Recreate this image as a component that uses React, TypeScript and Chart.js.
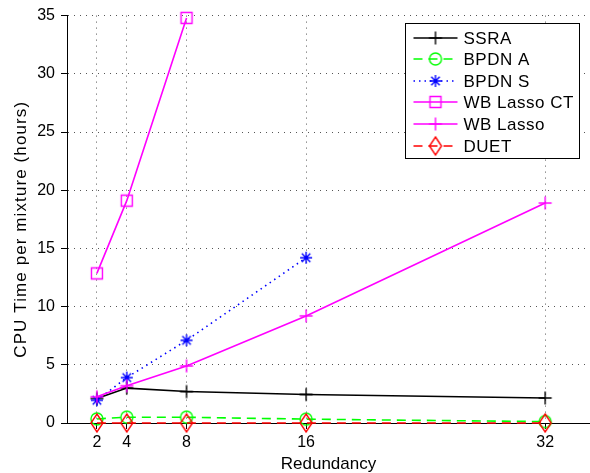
import React, { useEffect, useRef } from "react";
import { Chart, registerables } from "chart.js";

Chart.register(...registerables);

// ---- data ----
const redundancy = [2, 4, 8, 16, 32];
const ssra = [2.1, 3.0, 2.7, 2.45, 2.15];
const bpdnA = [0.35, 0.5, 0.5, 0.33, 0.12];
const bpdnS = [1.95, 3.9, 7.1, 14.2];
const wbLassoCT = [12.85, 19.1, 34.8];
const wbLasso = [2.25, 3.2, 4.9, 9.2, 18.9];
const duet = [0, 0, 0, 0, 0];
const xTickValues = [2, 4, 8, 16, 32];
const yTickValues = [0, 5, 10, 15, 20, 25, 30, 35];
const seriesNames = ["SSRA", "BPDN A", "BPDN S", "WB Lasso CT", "WB Lasso", "DUET"];
const xTitle = "Redundancy";
const yTitle = "CPU Time per mixture (hours)";

const FONT = "'Liberation Sans', Arial, Helvetica, sans-serif";

type MarkerKind = "plus" | "circle" | "star" | "square" | "diamond";

function makeMarker(kind: MarkerKind, color: string): HTMLCanvasElement {
  const size = 22;
  const c = document.createElement("canvas");
  c.width = size;
  c.height = size;
  const g = c.getContext("2d")!;
  g.strokeStyle = color;
  g.lineWidth = 1.4;
  const m = size / 2;
  g.beginPath();
  if (kind === "plus") {
    const r = 6.5;
    g.moveTo(m - r, m);
    g.lineTo(m + r, m);
    g.moveTo(m, m - r);
    g.lineTo(m, m + r);
  } else if (kind === "circle") {
    g.arc(m, m, 6, 0, Math.PI * 2);
  } else if (kind === "star") {
    const r = 6;
    for (let k = 0; k < 4; k++) {
      const a = (k * Math.PI) / 4;
      g.moveTo(m - r * Math.cos(a), m - r * Math.sin(a));
      g.lineTo(m + r * Math.cos(a), m + r * Math.sin(a));
    }
  } else if (kind === "square") {
    g.rect(m - 5.5, m - 5.5, 11, 11);
  } else if (kind === "diamond") {
    g.moveTo(m, m - 9);
    g.lineTo(m + 6, m);
    g.lineTo(m, m + 9);
    g.lineTo(m - 6, m);
    g.closePath();
  }
  g.stroke();
  return c;
}

function toPoints(values: number[]) {
  return values.map((y, i) => ({ x: redundancy[i], y }));
}

export default function App() {
  const ref = useRef<HTMLCanvasElement | null>(null);

  useEffect(() => {
    if (!ref.current) return;

    const styles = [
      { color: "#000000", dash: [] as number[], marker: "plus" as MarkerKind, values: ssra },
      { color: "#00ff00", dash: [9, 6], marker: "circle" as MarkerKind, values: bpdnA },
      { color: "#0000ff", dash: [1.5, 4], marker: "star" as MarkerKind, values: bpdnS },
      { color: "#ff00ff", dash: [] as number[], marker: "square" as MarkerKind, values: wbLassoCT },
      { color: "#ff00ff", dash: [] as number[], marker: "plus" as MarkerKind, values: wbLasso },
      { color: "#ff0000", dash: [9, 6], marker: "diamond" as MarkerKind, values: duet },
    ];
    const markers = styles.map((s) => makeMarker(s.marker, s.color));

    const datasets = styles.map((s, i) => ({
      label: seriesNames[i],
      data: toPoints(s.values),
      borderColor: s.color,
      backgroundColor: s.color,
      borderWidth: 1.6,
      borderDash: s.dash,
      pointStyle: markers[i],
      pointRadius: 6,
      pointHoverRadius: 6,
      tension: 0,
      fill: false,
      clip: false as const,
      order: styles.length - i,
    }));

    const overlay = {
      id: "matlabOverlay",
      afterDraw(chart: any) {
        const ctx: any = chart.ctx;
        const area = chart.chartArea;
        ctx.save();
        // y-axis title
        ctx.font = `17px ${FONT}`;
        ctx.letterSpacing = "1.1px";
        ctx.fillStyle = "#000";
        ctx.textAlign = "center";
        ctx.textBaseline = "middle";
        ctx.translate(21, (area.top + area.bottom) / 2 + 10);
        ctx.rotate(-Math.PI / 2);
        ctx.fillText(yTitle, 0, 0);
        ctx.restore();

        // legend box
        ctx.save();
        const bx = Math.round(area.right - 185) + 0.5;
        const by = Math.round(area.top + 7) + 0.5;
        const bw = 174;
        const bh = 135;
        ctx.fillStyle = "#ffffff";
        ctx.fillRect(bx, by, bw, bh);
        ctx.strokeStyle = "#000";
        ctx.lineWidth = 1;
        ctx.setLineDash([]);
        ctx.strokeRect(bx, by, bw, bh);
        ctx.font = `17px ${FONT}`;
        ctx.letterSpacing = "0.5px";
        ctx.textAlign = "left";
        ctx.textBaseline = "middle";
        styles.forEach((s, i) => {
          const y = Math.round(by + 14 + i * 21.65);
          ctx.strokeStyle = s.color;
          ctx.lineWidth = 1.5;
          ctx.setLineDash(s.dash);
          ctx.beginPath();
          ctx.moveTo(bx + 8, y);
          ctx.lineTo(bx + 52, y);
          ctx.stroke();
          ctx.setLineDash([]);
          const mk = markers[i];
          ctx.drawImage(mk, bx + 30 - mk.width / 2, y - mk.height / 2);
          ctx.fillStyle = "#000";
          ctx.fillText(seriesNames[i], bx + 58, y + 1);
        });
        ctx.restore();
      },
    };

    const gridColor = (c: any) => (c.tick && c.tick.value === 0 ? "rgba(0,0,0,0)" : "#555555");

    const chart = new Chart(ref.current, {
      type: "line",
      data: { datasets: datasets as any },
      options: {
        responsive: false,
        maintainAspectRatio: false,
        devicePixelRatio: 1,
        animation: false,
        layout: { autoPadding: false, padding: { top: 15, right: 0, left: 0, bottom: 0 } },
        plugins: {
          legend: { display: false },
          tooltip: { enabled: false },
        },
        scales: {
          x: {
            type: "linear",
            min: 0,
            max: 35,
            afterBuildTicks: (scale: any) => {
              scale.ticks = xTickValues.map((v) => ({ value: v }));
            },
            afterFit: (scale: any) => {
              scale.height = 50;
              scale.paddingLeft = 0;
              scale.paddingRight = 0;
            },
            ticks: {
              font: { family: FONT, size: 16 },
              color: "#000",
              padding: 4,
              maxRotation: 0,
              autoSkip: false,
            },
            grid: {
              color: "#555555",
              tickColor: "#000",
              tickLength: 6,
              lineWidth: 1,
            },
            border: { display: true, color: "#000", width: 1, dash: [1, 5] },
            title: {
              display: true,
              text: xTitle,
              font: { family: FONT, size: 17 },
              color: "#000",
              padding: { top: 0, bottom: -2 },
            },
          },
          y: {
            type: "linear",
            min: 0,
            max: 35,
            afterBuildTicks: (scale: any) => {
              scale.ticks = yTickValues.map((v) => ({ value: v }));
            },
            afterFit: (scale: any) => {
              scale.width = 67;
            },
            ticks: {
              font: { family: FONT, size: 16 },
              color: "#000",
              padding: 6,
            },
            grid: {
              color: gridColor,
              tickColor: "#000",
              tickLength: 6,
              lineWidth: 1,
            },
            border: { display: true, color: "#000", width: 1, dash: [1, 5] },
          },
        },
      },
      plugins: [overlay],
    });

    return () => chart.destroy();
  }, []);

  return (
    <div style={{ position: "fixed", left: 0, top: 0, width: 590, height: 473, background: "#fff" }}>
      <canvas ref={ref} width={590} height={473} style={{ display: "block", width: 590, height: 473 }} />
    </div>
  );
}
